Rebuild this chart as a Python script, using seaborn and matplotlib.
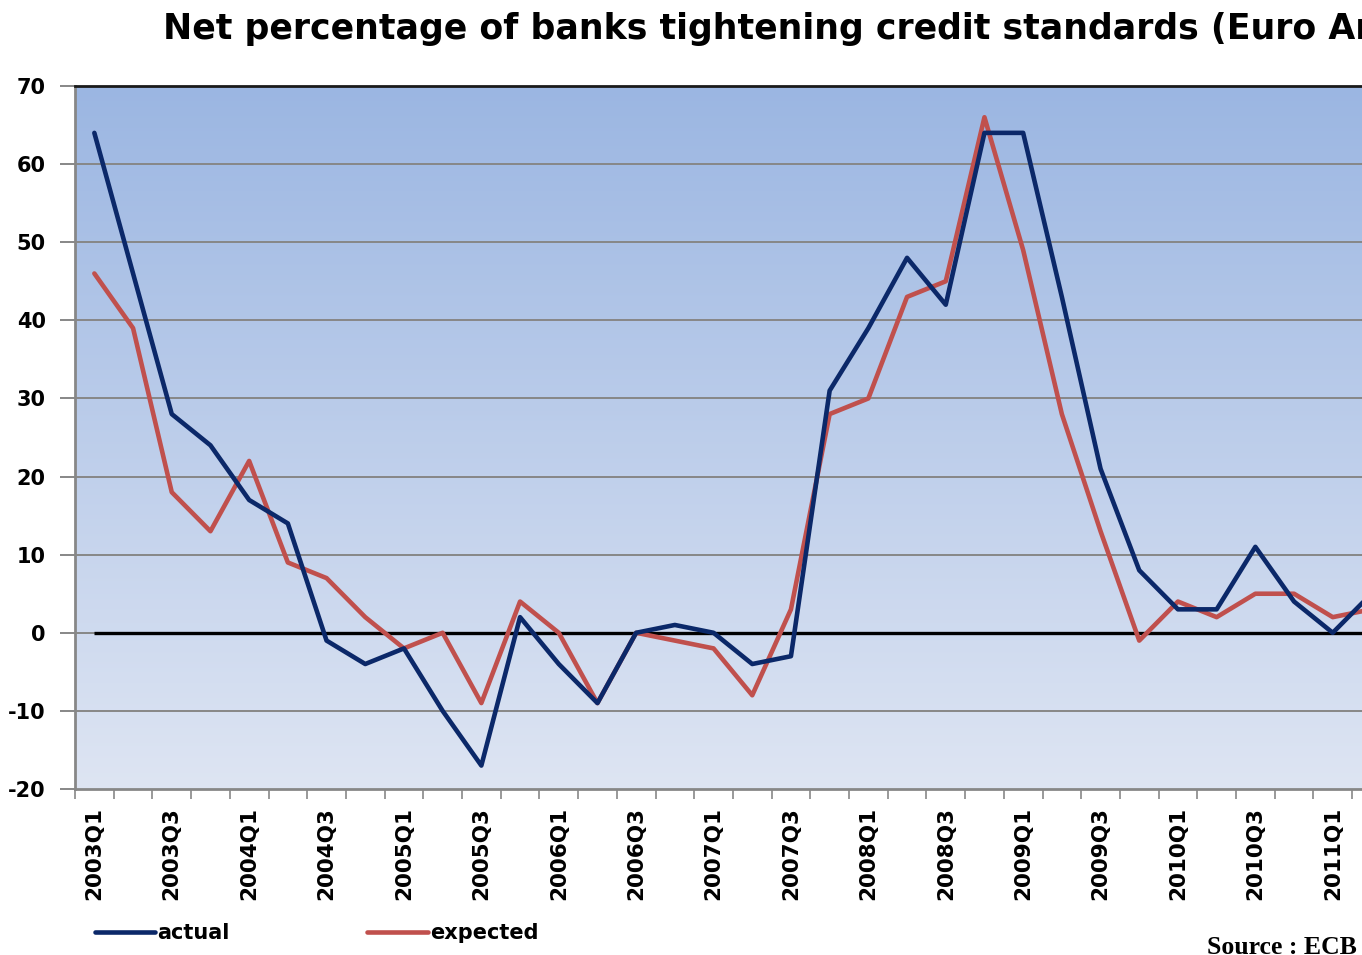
import numpy as np
import pandas as pd
import matplotlib
matplotlib.use("Agg")
import matplotlib.pyplot as plt
from matplotlib.lines import Line2D
import seaborn as sns

# Quarterly survey results, 2003Q1 onwards
quarters = [f"{y}Q{q}" for y in range(2003, 2012) for q in range(1, 5)][:34]
actual = [64, 46, 28, 24, 17, 14, -1, -4, -2, -10, -17, 2, -4, -9, 0, 1, 0,
          -4, -3, 31, 39, 48, 42, 64, 64, 43, 21, 8, 3, 3, 11, 4, 0, 5]
expected = [46, 39, 18, 13, 22, 9, 7, 2, -2, 0, -9, 4, 0, -9, 0, -1, -2,
            -8, 3, 28, 30, 43, 45, 66, 49, 28, 13, -1, 4, 2, 5, 5, 2, 3]
series_names = ["actual", "expected"]
y_ticks = [-20, -10, 0, 10, 20, 30, 40, 50, 60, 70]

BLUE = "#0B2869"
RED = "#C0504D"
GRID = "#878787"

sns.set_theme(style="white")
plt.rcParams["font.family"] = ["DejaVu Sans"]
plt.rcParams["text.color"] = "black"
plt.rcParams["xtick.labelcolor"] = "black"
plt.rcParams["ytick.labelcolor"] = "black"

n = len(quarters)
idx = np.arange(n)
df = pd.DataFrame({
    "pos": np.concatenate([idx, idx]),
    "value": actual + expected,
    "series": [series_names[0]] * n + [series_names[1]] * n,
})

W, H = 1362, 955
fig = plt.figure(figsize=(W / 100, H / 100), dpi=100)
fig.patch.set_facecolor("white")

cat_px = 38.7
ax = fig.add_axes([75 / W, 1 - 789 / H, n * cat_px / W, 703 / H])

# vertical blue gradient background of the plot area
top = np.array([155, 182, 226]) / 255
bot = np.array([222, 229, 243]) / 255
t = np.linspace(0, 1, 256)[:, None]
grad = (top * (1 - t) + bot * t)[:, None, :]
ax.imshow(grad, extent=[0, 1, 0, 1], transform=ax.transAxes,
          aspect="auto", zorder=0, interpolation="bilinear")

# gridlines
for v in y_ticks[1:-1]:
    ax.axhline(v, color=GRID, lw=1.4, zorder=1)

# zero reference line across the categories
ax.plot(idx, np.zeros(n), color="black", lw=2.4, zorder=2,
        solid_capstyle="butt")

sns.lineplot(data=df, x="pos", y="value", hue="series",
             palette={"actual": BLUE, "expected": RED},
             hue_order=["expected", "actual"],
             lw=3.3, ax=ax, legend=False, zorder=3, sort=False)

ax.set_xlim(-0.5, n - 0.5)
ax.set_ylim(-20, 70)
ax.set_xlabel("")
ax.set_ylabel("")

# y axis
ax.set_yticks(y_ticks)
ax.set_yticklabels([str(v) for v in y_ticks], fontsize=15, fontweight="bold")
ax.tick_params(axis="y", which="major", direction="out", length=11,
               width=1.4, color=GRID, pad=10, left=True)

# x axis: tick marks at category boundaries, labels every other quarter
ax.set_xticks(np.arange(n + 1) - 0.5)
ax.set_xticklabels([])
ax.tick_params(axis="x", which="major", direction="out", length=7,
               width=1.2, color=GRID, bottom=True)
ax.set_xticks(idx[::2], minor=True)
ax.set_xticklabels(quarters[::2], minor=True, rotation=90,
                   fontsize=15.5, fontweight="bold")
ax.tick_params(axis="x", which="minor", length=0, pad=13)

for s in ["left", "bottom"]:
    ax.spines[s].set_color(GRID)
    ax.spines[s].set_linewidth(2)
ax.spines["top"].set_color("#1a1a1a")
ax.spines["top"].set_linewidth(2)
ax.spines["right"].set_visible(False)

# title
fig.text(163 / W, 1 - 29 / H,
         "Net percentage of banks tightening credit standards (Euro Area)",
         fontsize=25, fontweight="bold", ha="left", va="center")

# legend
handles = [Line2D([], [], color=BLUE, lw=3.3),
           Line2D([], [], color=RED, lw=3.3)]
fig.legend(handles, series_names, loc="center left",
           bbox_to_anchor=(95 / W, 1 - 933 / H), ncol=2, frameon=False,
           prop={"size": 15, "weight": "bold"}, handlelength=2.9,
           handletextpad=0.1, columnspacing=6.6, borderpad=0,
           borderaxespad=0)

fig.text(1207 / W, 1 - 936 / H, "Source : ECB", fontsize=18.5,
         fontweight="bold", family=["Liberation Serif", "DejaVu Serif"],
         ha="left", va="top")

fig.savefig("out.png", dpi=100)
